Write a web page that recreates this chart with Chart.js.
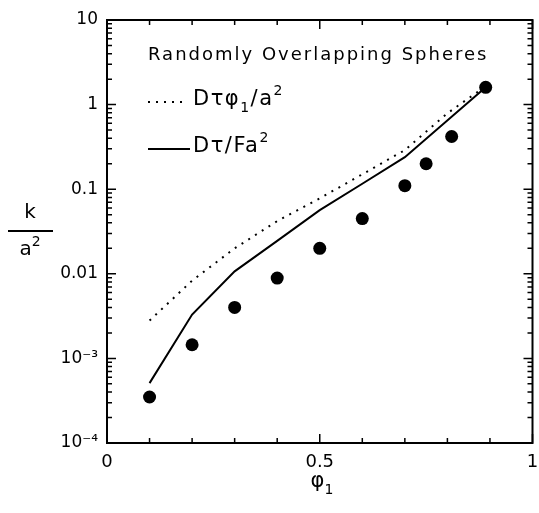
<!DOCTYPE html>
<html>
<head>
<meta charset="utf-8">
<script src="https://cdn.jsdelivr.net/npm/chart.js@4/dist/chart.umd.min.js"></script>
<style>
  html, body { margin: 0; padding: 0; background: #fff; }
  #wrap { width: 539px; height: 513px; }
</style>
</head>
<body>
<div id="wrap"><canvas id="chart" width="539" height="513"></canvas></div>
<script>
// valeurs (phi_1 en abscisse, k/a^2 en ordonnee)
const phiSim = [0.1, 0.2, 0.3, 0.4, 0.5, 0.6, 0.7, 0.75, 0.81, 0.89]
const kSim = [3.5e-4, 1.45e-3, 4.0e-3, 8.9e-3, 0.020, 0.045, 0.11, 0.20, 0.42, 1.6]

const phiDotted = [0.1, 0.2, 0.3, 0.4, 0.5, 0.6, 0.7, 0.8, 0.89]
const kDotted = [0.0028, 0.0083, 0.020, 0.042, 0.078, 0.15, 0.29, 0.79, 1.65]

const phiSolid = [0.1, 0.2, 0.3, 0.4, 0.5, 0.6, 0.7, 0.89]
const kSolid = [5.1e-4, 3.3e-3, 0.0107, 0.0245, 0.0566, 0.116, 0.239, 1.6]

const yLabelValues = [1e-4, 1e-3, 0.01, 0.1, 1, 10]
const yLabelTexts = ['10⁻⁴', '10⁻³', '0.01', '0.1', '1', '10']
const xLabelValues = [0, 0.5, 1]
const xLabelTexts = ['0', '0.5', '1']

const FONT = '"DejaVu Sans", "Liberation Sans", sans-serif'

const toPoints = (xs, ys) => xs.map((x, i) => ({ x: x, y: ys[i] }))
const findLabel = (values, v) => values.findIndex(u => Math.abs(u - v) <= Math.abs(u) * 1e-6 + 1e-9)

// texte avec indices / exposants
function drawRuns(ctx, runs, x, y, size, align) {
  const fontFor = k => (k ? Math.round(size * 0.68) : size) + 'px ' + FONT
  const widths = runs.map(([t, k]) => { ctx.font = fontFor(k); return ctx.measureText(t).width })
  const total = widths.reduce((a, b) => a + b, 0)
  let cx = align === 'center' ? x - total / 2 : x
  ctx.textBaseline = 'middle'
  ctx.textAlign = 'left'
  runs.forEach(([t, k], i) => {
    ctx.font = fontFor(k)
    const dy = k === 'sub' ? size * 0.38 : k === 'sup' ? -size * 0.4 : 0
    ctx.fillText(t, cx, y + dy)
    cx += widths[i]
  })
}

const decorations = {
  id: 'decorations',
  afterDraw(chart) {
    const { ctx, chartArea: a, scales: { x, y } } = chart
    ctx.save()
    ctx.strokeStyle = '#000'
    ctx.fillStyle = '#000'

    // cadre
    ctx.lineWidth = 2
    ctx.strokeRect(a.left, a.top, a.right - a.left, a.bottom - a.top)

    // graduations vers l'interieur
    ctx.lineWidth = 1.5
    ctx.beginPath()
    x.ticks.forEach(t => {
      const px = x.getPixelForValue(t.value)
      const len = findLabel(xLabelValues, t.value) >= 0 ? 9 : 5
      ctx.moveTo(px, a.bottom); ctx.lineTo(px, a.bottom - len)
      ctx.moveTo(px, a.top); ctx.lineTo(px, a.top + len)
    })
    y.ticks.forEach(t => {
      const py = y.getPixelForValue(t.value)
      const len = findLabel(yLabelValues, t.value) >= 0 ? 9 : 5
      ctx.moveTo(a.left, py); ctx.lineTo(a.left + len, py)
      ctx.moveTo(a.right, py); ctx.lineTo(a.right - len, py)
    })
    ctx.stroke()

    // titre et legende dans le graphique
    ctx.letterSpacing = '2px'
    ctx.font = '18px ' + FONT
    ctx.textBaseline = 'middle'
    ctx.fillText('Randomly Overlapping Spheres', 148, 55)
    ctx.letterSpacing = '1.5px'

    ctx.lineWidth = 2
    ctx.setLineDash([2, 6])
    ctx.beginPath(); ctx.moveTo(148, 102); ctx.lineTo(188, 102); ctx.stroke()
    ctx.setLineDash([])
    ctx.beginPath(); ctx.moveTo(148, 149); ctx.lineTo(190, 149); ctx.stroke()
    drawRuns(ctx, [['Dτφ'], ['1', 'sub'], ['/a'], ['2', 'sup']], 193, 100, 21, 'left')
    drawRuns(ctx, [['Dτ/Fa'], ['2', 'sup']], 193, 147, 21, 'left')

    // titres des axes
    ctx.letterSpacing = '0px'
    ctx.textAlign = 'center'
    ctx.font = '20px ' + FONT
    ctx.fillText('k', 30, 213)
    ctx.beginPath(); ctx.moveTo(8, 231); ctx.lineTo(53, 231); ctx.stroke()
    drawRuns(ctx, [['a'], ['2', 'sup']], 30, 250, 20, 'center')
    drawRuns(ctx, [['φ'], ['1', 'sub']], 322, 482, 21, 'center')
    ctx.restore()
  }
}

new Chart(document.getElementById('chart').getContext('2d'), {
  type: 'line',
  data: {
    datasets: [
      {
        label: 'simulation',
        data: toPoints(phiSim, kSim),
        showLine: false,
        pointRadius: 6.5,
        pointBackgroundColor: '#000',
        pointBorderColor: '#000',
        pointBorderWidth: 0,
        order: 0
      },
      {
        label: 'Dτφ1/a2',
        data: toPoints(phiDotted, kDotted),
        borderColor: '#000',
        borderWidth: 2,
        borderDash: [2, 6],
        pointRadius: 0,
        tension: 0,
        order: 1
      },
      {
        label: 'Dτ/Fa2',
        data: toPoints(phiSolid, kSolid),
        borderColor: '#000',
        borderWidth: 2,
        pointRadius: 0,
        tension: 0,
        order: 2
      }
    ]
  },
  options: {
    responsive: false,
    animation: false,
    devicePixelRatio: 1,
    layout: { padding: { top: 20, right: 2, left: 0, bottom: 0 } },
    plugins: { legend: { display: false }, tooltip: { enabled: false } },
    scales: {
      x: {
        type: 'linear',
        min: 0,
        max: 1,
        grid: { display: false, drawTicks: false },
        border: { display: false },
        ticks: {
          stepSize: 0.1,
          autoSkip: false,
          maxRotation: 0,
          padding: 9,
          color: '#000',
          font: { family: FONT, size: 18 },
          callback: v => {
            const i = findLabel(xLabelValues, v)
            return i >= 0 ? xLabelTexts[i] : ''
          }
        },
        afterFit: s => { s.height = 70; s.paddingLeft = 0; s.paddingRight = 0 }
      },
      y: {
        type: 'logarithmic',
        min: 1e-4,
        max: 10,
        grid: { display: false, drawTicks: false },
        border: { display: false },
        ticks: {
          autoSkip: false,
          padding: 9,
          color: '#000',
          font: { family: FONT, size: 17 },
          callback: v => {
            const i = findLabel(yLabelValues, v)
            return i >= 0 ? yLabelTexts[i] : ''
          }
        },
        afterBuildTicks: s => {
          const ticks = []
          for (let e = -4; e < 1; e++) {
            for (let m = 1; m < 10; m++) ticks.push({ value: m * Math.pow(10, e) })
          }
          ticks.push({ value: 10 })
          s.ticks = ticks
        },
        afterFit: s => { s.width = 107; s.paddingTop = 0; s.paddingBottom = 0 }
      }
    }
  },
  plugins: [decorations]
})
</script>
</body>
</html>
